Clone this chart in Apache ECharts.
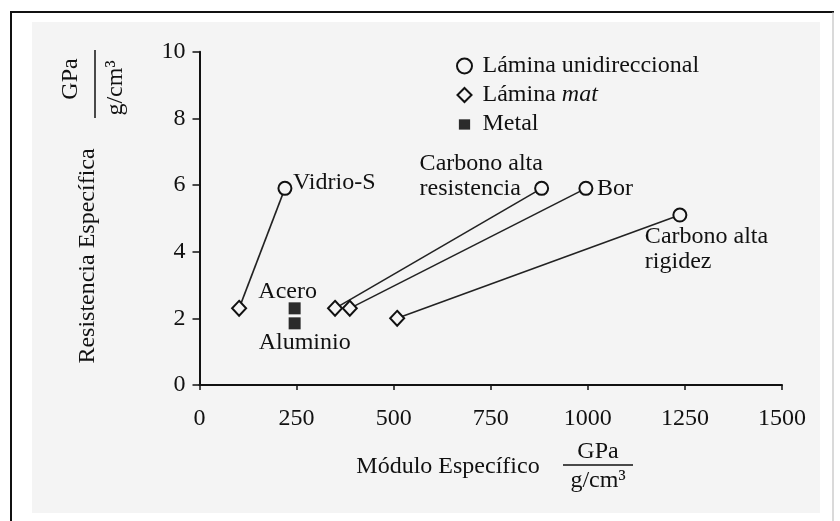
<!DOCTYPE html>
<html>
<head>
<meta charset="utf-8">
<script src="https://cdn.jsdelivr.net/npm/echarts@6/dist/echarts.min.js"></script>
<style>
html,body{margin:0;padding:0;background:#fff;}
#c{width:840px;height:521px;}
</style>
</head>
<body>
<div id="c"></div>
<script>
// ---- data ----
const fibras = ['Vidrio-S', 'Carbono alta\nresistencia', 'Bor', 'Carbono alta\nrigidez'];
const udModulo = [220, 881, 995, 1237];      // Lámina unidireccional
const udResist = [5.9, 5.9, 5.9, 5.1];
const matModulo = [102, 349, 387, 509];      // Lámina mat
const matResist = [2.3, 2.3, 2.3, 2.0];
const metales = ['Acero', 'Aluminio'];
const metalModulo = [245, 245];
const metalResist = [2.3, 1.85];
const xTicks = [0, 250, 500, 750, 1000, 1250, 1500];
const yTicks = [0, 2, 4, 6, 8, 10];

// ---- styling ----
const FONT = 'Liberation Serif, Times New Roman, serif';
const INK = '#111111';
const BG = '#f4f4f4';
const fs = 24;

// label placement (style only, not data)
const udLabelPlace = [
  {align:'left', offset:[8, -6]},
  {align:'left', offset:[-122, -12.5]},
  {align:'left', offset:[11, 0]},
  {align:'left', offset:[-35, 34.5]}
];
const metalLabelPlace = [
  {align:'center', offset:[-7, -17]},
  {align:'center', offset:[10, 19]}
];

const labelBase = {show:true, position:'inside', color:INK, fontFamily:FONT, fontSize:fs, lineHeight:25, verticalAlign:'middle'};

const series = [];
fibras.forEach((f, i) => {
  series.push({
    type:'line', silent:true, symbol:'none', z:1,
    data:[[udModulo[i], udResist[i]], [matModulo[i], matResist[i]]],
    lineStyle:{color:'#222', width:1.6}
  });
});
series.push({
  name:'Lámina unidireccional', type:'scatter', symbol:'circle', symbolSize:13, z:3,
  itemStyle:{color:BG, borderColor:INK, borderWidth:2, opacity:1},
  data: udModulo.map((x, i) => ({
    value:[x, udResist[i]], name:fibras[i],
    label:Object.assign({}, labelBase, udLabelPlace[i], {formatter:fibras[i]})
  }))
});
series.push({
  name:'Lámina mat', type:'scatter', symbol:'diamond', symbolSize:[14,15], z:3,
  itemStyle:{color:BG, borderColor:INK, borderWidth:2, opacity:1},
  data: matModulo.map((x, i) => [x, matResist[i]])
});
series.push({
  name:'Metal', type:'scatter', symbol:'rect', symbolSize:[12,12], z:3,
  itemStyle:{color:'#2b2b2b', opacity:1},
  data: metalModulo.map((x, i) => ({
    value:[x, metalResist[i]], name:metales[i],
    label:Object.assign({}, labelBase, metalLabelPlace[i], {formatter:metales[i]})
  }))
});

const tf = (s, x, y, extra) => Object.assign({
  type:'text', x:x, y:y, z:5,
  style:{text:s, fill:INK, font: fs + 'px ' + FONT, align:'center', verticalAlign:'middle'}
}, extra || {});

const chart = echarts.init(document.getElementById('c'), null, {renderer:'canvas'});
chart.setOption({
  animation:false,
  backgroundColor:'#ffffff',
  grid:{left:199.5, right:58, top:51.7, bottom:136, containLabel:false},
  xAxis:{
    type:'value', min:xTicks[0], max:xTicks[xTicks.length-1], interval:250,
    axisLine:{show:true, onZero:false, lineStyle:{color:INK, width:2}},
    axisTick:{show:true, inside:false, length:5, lineStyle:{color:INK, width:1.5}},
    axisLabel:{color:INK, fontFamily:FONT, fontSize:fs, margin:22, formatter:function(v){return String(v);}},
    splitLine:{show:false}
  },
  yAxis:{
    type:'value', min:yTicks[0], max:yTicks[yTicks.length-1], interval:2,
    axisLine:{show:true, onZero:false, lineStyle:{color:INK, width:2}},
    axisTick:{show:true, inside:false, length:7, lineStyle:{color:INK, width:1.5}},
    axisLabel:{color:INK, fontFamily:FONT, fontSize:fs, margin:14, formatter:function(v){return String(v);}},
    splitLine:{show:false}
  },
  legend:{
    orient:'vertical', left:456, top:54, padding:0, itemGap:5,
    itemWidth:26, itemHeight:15, selectedMode:false, symbolKeepAspect:true,
    data:[
      {name:'Lámina unidireccional', icon:'circle'},
      {name:'Lámina mat', icon:'path://M0,0M16,16M8,0.5L15.5,8L8,15.5L0.5,8Z'},
      {name:'Metal', icon:'path://M0,0M16,16M2,3L14,3L14,14L2,14Z'}
    ],
    textStyle:{color:INK, fontFamily:FONT, fontSize:fs, lineHeight:24,
      rich:{n:{fontFamily:FONT, fontSize:fs, color:INK}, i:{fontFamily:FONT, fontSize:fs, fontStyle:'italic', color:INK}}},
    formatter:function(name){
      if (name === 'Lámina mat') return '{n|Lámina }{i|mat}';
      return name;
    }
  },
  graphic:{elements:[
    {type:'rect', z:-10, silent:true, shape:{x:32, y:22, width:788, height:491}, style:{fill:BG}},
    {type:'line', z:-9, silent:true, shape:{x1:11, y1:12, x2:11, y2:521}, style:{stroke:'#111', lineWidth:2}},
    {type:'line', z:-9, silent:true, shape:{x1:10, y1:12, x2:834, y2:12}, style:{stroke:'#111', lineWidth:2}},
    {type:'line', z:-9, silent:true, shape:{x1:833, y1:12, x2:833, y2:521}, style:{stroke:'#b5b5b5', lineWidth:1}},
    // x axis title
    tf('Módulo Específico', 448, 467),
    tf('GPa', 598, 452),
    {type:'line', z:5, silent:true, shape:{x1:563, y1:465, x2:633, y2:465}, style:{stroke:INK, lineWidth:1.5}},
    tf('g/cm³', 598, 481),
    // y axis title (rotated)
    tf('Resistencia Específica', 88, 256, {rotation:Math.PI/2}),
    tf('GPa', 71, 79, {rotation:Math.PI/2}),
    {type:'line', z:5, silent:true, shape:{x1:95, y1:50, x2:95, y2:118}, style:{stroke:INK, lineWidth:1.5}},
    tf('g/cm³', 116, 88, {rotation:Math.PI/2})
  ]},
  series:series
});
</script>
</body>
</html>
